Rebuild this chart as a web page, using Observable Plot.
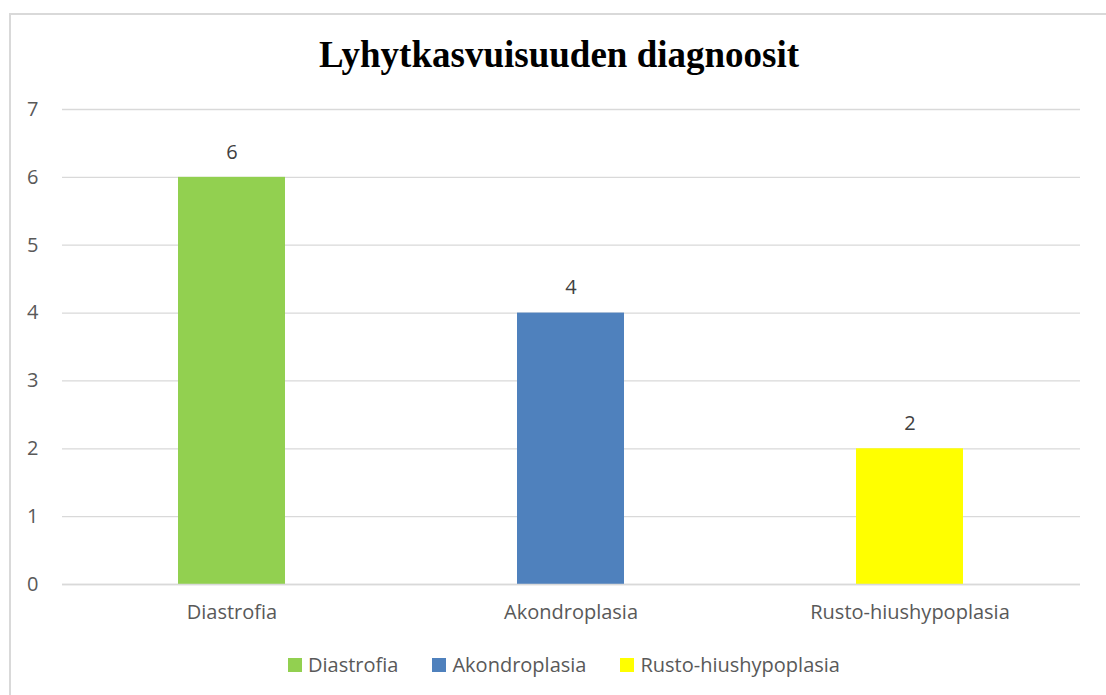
<!DOCTYPE html>
<html><head><meta charset="utf-8">
<script src="https://cdn.jsdelivr.net/npm/d3@7"></script>
<script src="https://cdn.jsdelivr.net/npm/@observablehq/plot@0.6"></script>
<style>
body{margin:0;background:#fff;width:1106px;height:695px;overflow:hidden;position:relative;font-family:"Open Sans",sans-serif;}
#frame{position:absolute;left:9px;top:13px;width:1200px;height:800px;border:2px solid #d9d9d9;box-sizing:border-box;}
#title{position:absolute;top:33px;left:0;width:1118px;text-align:center;font-family:"Liberation Serif","Times New Roman",serif;font-weight:bold;font-size:37px;color:#000;}
#chart{position:absolute;left:0;top:90px;}
#legend{position:absolute;top:651px;left:0;width:1128px;display:flex;justify-content:center;gap:34px;font-size:20px;line-height:28px;color:#595959;}
#legend span.item{display:flex;align-items:center;gap:6px;}
#legend span.sw{display:inline-block;width:14px;height:14px;}
</style></head>
<body>
<div id="frame"></div>
<div id="title">Lyhytkasvuisuuden diagnoosit</div>
<div id="chart"></div>
<div id="legend"></div>
<script>
const categories = ["Diastrofia","Akondroplasia","Rusto-hiushypoplasia"];
const values = [6,4,2];
const colors = ["#92d050","#4f81bd","#ffff00"];
const yTicks = [0,1,2,3,4,5,6,7];

const data = categories.map((c,i)=>({cat:c, value:values[i]}));

const chart = Plot.plot({
  width:1106, height:560,
  marginLeft:62, marginRight:26, marginTop:19, marginBottom:66,
  style:{fontFamily:"'Open Sans', sans-serif", fontSize:"20px", color:"#595959", background:"transparent"},
  x:{domain:categories, paddingInner:0.684, paddingOuter:0.342, label:null},
  y:{domain:[0,7], ticks:yTicks, label:null, tickFormat:d3.format("d")},
  color:{domain:categories, range:colors},
  marks:[
    Plot.gridY(yTicks, {stroke:"#d9d9d9", strokeOpacity:1, strokeWidth:1.3}),
    Plot.barY(data, {x:"cat", y:"value", fill:"cat"}),
    Plot.text(data, {x:"cat", y:"value", text:d=>String(d.value), dy:-25, fill:"#404040", fontSize:20}),
    Plot.axisY(yTicks, {tickSize:0, tickPadding:24, label:null, fill:"#595959", fontSize:20, tickFormat:d3.format("d")}),
    Plot.axisX({tickSize:0, tickPadding:20, label:null, fill:"#595959", fontSize:20}),
    Plot.ruleY([0], {stroke:"#d9d9d9", strokeWidth:1.5})
  ]
});
document.getElementById("chart").appendChild(chart);

const leg = document.getElementById("legend");
categories.forEach((c,i)=>{
  const it = document.createElement("span"); it.className="item";
  const sw = document.createElement("span"); sw.className="sw"; sw.style.background=colors[i];
  const t = document.createElement("span"); t.textContent=c;
  it.appendChild(sw); it.appendChild(t); leg.appendChild(it);
});
</script>
</body></html>
